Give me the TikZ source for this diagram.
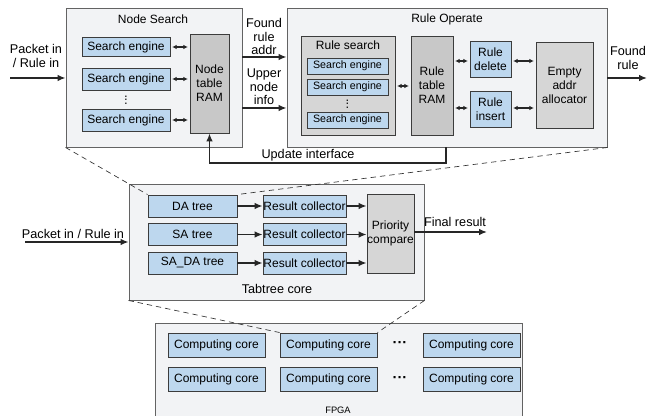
\documentclass[tikz,border=0pt]{standalone}
\usepackage{fontspec}
\setmainfont{Liberation Sans}
\usetikzlibrary{arrows.meta}
\definecolor{outerfill}{RGB}{242,243,245}
\definecolor{bluefill}{RGB}{189,215,238}
\definecolor{grayfill}{RGB}{200,200,200}
\definecolor{lgrayfill}{RGB}{214,214,214}
\definecolor{edge}{RGB}{60,60,60}
\tikzset{
  sz/.style 2 args={minimum width=#1*0.75pt, minimum height=#2*0.75pt},
  base/.style={draw=edge, line width=0.7pt, inner sep=0pt, align=center, font=\fontsize{9}{10.5}\selectfont},
  outerbox/.style={base, fill=outerfill, draw=edge!80},
  bluebox/.style={base, fill=bluefill},
  graybox/.style={base, fill=grayfill},
  lgraybox/.style={base, fill=lgrayfill},
  lbl/.style={inner sep=0pt, align=center, font=\fontsize{9.5}{10.2}\selectfont},
  arr/.style={-{Latex[length=6pt,width=5pt]}, line width=1.1pt, black!85},
  darr/.style={{Latex[length=3.5pt,width=3.5pt]}-{Latex[length=3.5pt,width=3.5pt]}, line width=0.9pt, black!85, shorten <=1.2pt, shorten >=1.2pt},
  dsh/.style={dashed, dash pattern=on 4pt off 3pt, line width=0.5pt, black!80},
  hdots/.style={inner sep=0pt, font=\bfseries\fontsize{11}{12}\selectfont},
}
\begin{document}
\begin{tikzpicture}[x=0.75pt,y=-0.75pt]
\useasboundingbox (0,0) rectangle (648,416);
% ===== Node Search
\node[outerbox, sz={176}{139}] (ns) at (154,77.5) {};
\node[lbl, font=\fontsize{9}{10.5}\selectfont] (nst) at (153,19) {Node Search};
\node[bluebox, sz={88}{19}] (se1) at (126,47) {Search engine};
\node[bluebox, sz={88}{22}] (se2) at (126,79) {Search engine};
\node[bluebox, sz={88}{22}] (se3) at (126,120) {Search engine};
\node[lbl] (nsdots) at (126,100) {\rotatebox{90}{...}};
\node[graybox, sz={39}{99}] (nram) at (209.5,83.5) {Node\\table\\RAM};
\draw[darr] (se1.east) -- (se1.east -| nram.west);
\draw[darr] (se2.east) -- (se2.east -| nram.west);
\draw[darr] (se3.east) -- (se3.east -| nram.west);
% input
\coordinate (pin1) at (10,78);
\draw[arr] (pin1) -- (pin1 -| ns.west);
\node[lbl] (pinl) at (36,56) {Packet in\\/ Rule in};
% ===== Rule Operate
\node[outerbox, sz={320}{139}] (ro) at (447,77.5) {};
\node[lbl, font=\fontsize{9}{10.5}\selectfont] (rot) at (447,19) {Rule Operate};
\node[lgraybox, sz={94}{99}] (rs) at (348,85.5) {};
\node[lbl, font=\fontsize{9}{10.5}\selectfont] (rst) at (348,45) {Rule search};
\node[bluebox, sz={81}{16}, font=\fontsize{8}{9}\selectfont] (rse1) at (347.5,66) {Search engine};
\node[bluebox, sz={81}{16}, font=\fontsize{8}{9}\selectfont] (rse2) at (347.5,87) {Search engine};
\node[bluebox, sz={81}{16}, font=\fontsize{8}{9}\selectfont] (rse3) at (347.5,120) {Search engine};
\node[lbl] (rsdots) at (347.5,104) {\rotatebox{90}{...}};
\node[graybox, sz={42}{99}] (rram) at (432,85.5) {Rule\\table\\RAM};
\node[bluebox, sz={41}{36}] (rdel) at (490.5,59.5) {Rule\\delete};
\node[bluebox, sz={41}{36}] (rins) at (490.5,109) {Rule\\insert};
\node[lgraybox, sz={57}{86}] (alloc) at (564.5,85) {Empty\\addr\\allocator};
\coordinate (y86) at (0,86);
\draw[darr] (rs.east |- y86) -- (rram.west |- y86);
\coordinate (y61) at (0,61);
\coordinate (y108) at (0,108);
\draw[darr] (rram.east |- y61) -- (rdel.west |- y61);
\draw[darr] (rram.east |- y108) -- (rins.west |- y108);
\draw[darr] (rdel.east |- y61) -- (alloc.west |- y61);
\draw[darr] (rins.east |- y108) -- (alloc.west |- y108);
% NS -> RO
\coordinate (y57) at (0,57);
\draw[arr] (ns.east |- y57) -- (ro.west |- y57);
\node[lbl] (fra) at (264,36.5) {Found\\rule\\addr};
\draw[arr] (ns.east |- y108) -- (ro.west |- y108);
\node[lbl] (uni) at (264,87) {Upper\\node\\info};
% Found rule out
\coordinate (frout) at (647,78);
\draw[arr] (ro.east |- frout) -- (frout);
\node[lbl] (frl) at (628,58) {Found\\rule};
% update interface
\coordinate (upx) at (446,163);
\draw[arr] (ro.south -| upx) -- (upx) -- (upx -| nram.south) -- (nram.south);
\node[lbl] (upl) at (308,155) {Update interface};
% ===== Tabtree core
\node[outerbox, sz={295}{116}] (tc) at (276.5,242) {};
\node[lbl] (tct) at (277,289) {Tabtree core};
\node[bluebox, sz={89}{22}] (da) at (192.5,206) {DA tree};
\node[bluebox, sz={89}{22}] (sa) at (192.5,234.5) {SA tree};
\node[bluebox, sz={89}{22}] (sada) at (192.5,263) {SA\_DA tree};
\node[bluebox, sz={83}{22}] (rc1) at (304.5,206) {Result collector};
\node[bluebox, sz={83}{22}] (rc2) at (304.5,234.5) {Result collector};
\node[bluebox, sz={83}{22}] (rc3) at (304.5,263) {Result collector};
\node[lgraybox, sz={47}{79}] (pc) at (390.5,233.5) {Priority\\compare};
\draw[arr] (da) -- (rc1);
\draw[arr] (sa) -- (rc2);
\draw[arr] (sada) -- (rc3);
\draw[arr] (rc1) -- (rc1 -| pc.west);
\draw[arr] (rc2) -- (rc2 -| pc.west);
\draw[arr] (rc3) -- (rc3 -| pc.west);
\coordinate (fres) at (487,232);
\draw[arr] (pc.east |- fres) -- (fres);
\node[lbl] (fresl) at (455,222) {Final result};
\coordinate (pin2) at (25,242);
\draw[arr] (pin2) -- (tc.west |- pin2);
\node[lbl] (pin2l) at (73,234) {Packet in / Rule in};
% dashed zoom lines
\draw[dsh] (ns.south west) -- (da.north west);
\draw[dsh] (ro.south east) -- (da.north east);
% ===== FPGA
\node[outerbox, sz={367}{110}, anchor=north west] (fpga) at (155,323) {};
\node[lbl, font=\fontsize{7}{8}\selectfont] (fpgal) at (338,410) {FPGA};
\node[bluebox, sz={97}{24}] (cc11) at (216.5,345) {Computing core};
\node[bluebox, sz={97}{24}] (cc12) at (328.5,345) {Computing core};
\node[bluebox, sz={97}{24}] (cc13) at (471.5,345) {Computing core};
\node[bluebox, sz={97}{24}] (cc21) at (216.5,379.5) {Computing core};
\node[bluebox, sz={97}{24}] (cc22) at (328.5,379.5) {Computing core};
\node[bluebox, sz={97}{24}] (cc23) at (471.5,379.5) {Computing core};
\node[hdots] (ccd1) at (400,345) {\char"00B7\char"00B7\char"00B7};
\node[hdots] (ccd2) at (400,379.5) {\char"00B7\char"00B7\char"00B7};
\draw[dsh] (tc.south west) -- (cc12.north west);
\draw[dsh] (tc.south east) -- (cc12.north east);
\end{tikzpicture}
\end{document}
